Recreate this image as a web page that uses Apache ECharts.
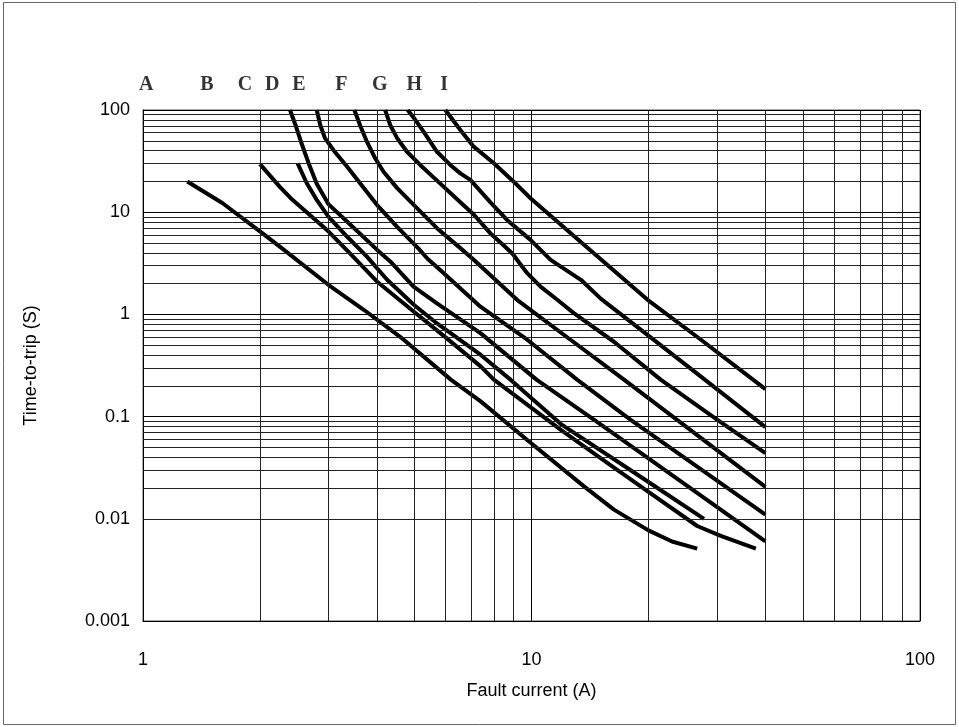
<!DOCTYPE html>
<html>
<head>
<meta charset="utf-8">
<script src="https://cdn.jsdelivr.net/npm/echarts@6/dist/echarts.min.js"></script>
<style>
html,body{margin:0;padding:0;background:#fff;}
#chart{width:959px;height:727px;}
</style>
</head>
<body>
<div id="chart"></div>
<script>
// ---- data ----
var curveNames = ['A','B','C','D','E','F','G','H','I'];
var curveA = [[1.3,20],[1.6,12.3],[2,6.5],[2.25,4.6],[3,1.95],[3.7,1.11],[4.6,0.6],[6.2,0.23],[7.4,0.141],[9.75,0.059],[13.6,0.021],[16.3,0.0123],[20,0.0077],[23,0.006],[26.7,0.0051]];
var curveB = [[2,29.5],[2.25,17.7],[2.4,13.7],[3,6.5],[3.4,4.0],[4,2.1],[5,1.05],[6,0.6],[7.4,0.31],[8,0.23],[11.9,0.074],[16,0.0333],[20,0.0183],[26.7,0.0085],[30.7,0.0068],[37.8,0.0051]];
var curveC = [[2.5,30],[2.64,19.2],[2.8,13.2],[3,9.06],[3.35,5.78],[3.77,3.68],[4.25,2.18],[4.97,1.25],[5.7,0.82],[6.56,0.56],[7.39,0.403],[8.83,0.23],[11.88,0.085],[20,0.0229],[27.8,0.010]];
var curveD = [[2.39,100],[2.47,71],[2.56,47],[2.67,30],[2.8,19],[3,12],[3.35,8.1],[4,4.3],[4.33,3.3],[4.97,1.87],[5.71,1.28],[7.39,0.656],[10.3,0.23],[14.5,0.093],[20,0.039],[40,0.006]];
var curveE = [[2.8,100],[2.86,71],[2.94,53],[3.1,40],[3.35,28],[3.62,19.2],[4,11.8],[4.51,7.2],[5.12,4.4],[5.4,3.5],[5.83,2.7],[6.5,1.85],[7.39,1.19],[9.75,0.565],[13.1,0.23],[18,0.093],[40,0.011]];
var curveF = [[3.5,100],[3.62,71],[3.77,49],[3.96,33.7],[4.16,24.9],[4.51,17.2],[5.08,10.9],[5.71,6.98],[6.56,4.45],[7.1,3.42],[9.18,1.39],[12.6,0.565],[17.3,0.23],[23.7,0.093],[40,0.0205]];
var curveG = [[4.2,100],[4.33,71],[4.51,53],[4.78,39],[5.17,29],[5.75,19.9],[6.56,12.5],[7.1,9.5],[7.84,6.2],[8.5,4.7],[8.95,3.9],[9.3,3.2],[9.75,2.53],[10.55,1.87],[11.65,1.39],[12.85,1.03],[16.3,0.54],[21.5,0.23],[30.1,0.093],[40,0.044]];
var curveH = [[4.8,100],[5.0,82],[5.28,61],[5.71,39],[6.18,29],[6.56,24],[6.96,20.7],[7.84,12.5],[8.65,8.4],[9.94,5.36],[11.2,3.42],[13.4,2.18],[15.1,1.42],[19.1,0.71],[27.3,0.246],[40,0.079]];
var curveI = [[6.0,100],[6.56,63.7],[7.1,43.8],[8.0,30.1],[9.0,19.9],[9.94,13.7],[12.9,5.77],[19.9,1.39],[27.3,0.565],[40,0.186]];
var labelX = [1.02,1.46,1.83,2.15,2.52,3.24,4.07,4.99,5.96];
var labelY = 100;
var minorX = [2,3,4,5,6,7,8,9,20,30,40,50,60,70,80,90];
var minorY = [0.002,0.003,0.004,0.005,0.006,0.007,0.008,0.009,
              0.02,0.03,0.04,0.05,0.06,0.07,0.08,0.09,
              0.2,0.3,0.4,0.5,0.6,0.7,0.8,0.9,
              2,3,4,5,6,7,8,9,
              20,30,40,50,60,70,80,90];

var curves = [curveA,curveB,curveC,curveD,curveE,curveF,curveG,curveH,curveI];

var chart = echarts.init(document.getElementById('chart'), null, {renderer:'canvas'});

var series = [];
var ml = [];
minorX.forEach(function(v){ ml.push({xAxis: v}); });
minorY.forEach(function(v){ ml.push({yAxis: v}); });
series.push({
  type:'line', name:'grid', data:[[1,0.001]], showSymbol:false, symbolSize:0,
  lineStyle:{width:0}, z:1, silent:true,
  markLine:{ silent:true, symbol:['none','none'], label:{show:false},
    lineStyle:{color:'#222', width:1, type:'solid'}, data: ml, animation:false }
});
curves.forEach(function(c, i){
  series.push({
    type:'line', name: curveNames[i], data: c, showSymbol:false,
    smooth:false,
    lineStyle:{color:'#000', width:4, join:'round'}, z:3, silent:true
  });
});
series.push({
  type:'scatter', name:'labels', symbolSize:0, z:4, clip:false, silent:true,
  data: labelX.map(function(x){ return [x, labelY]; }),
  label:{ show:true, position:'top', distance:15,
    formatter:function(p){ return curveNames[p.dataIndex]; },
    fontFamily:'Liberation Serif', fontWeight:'bold', fontSize:20, color:'#000' }
});

chart.setOption({
  animation:false,
  backgroundColor:'#fff',
  grid:{ left:143, right:39, top:110, bottom:106, show:true, borderColor:'#555', borderWidth:1 },
  xAxis:{
    type:'log', logBase:10, min:1, max:100,
    name:'Fault current (A)', nameLocation:'middle', nameGap:61,
    nameTextStyle:{ fontFamily:'Liberation Sans', fontSize:18, color:'#000' },
    axisLine:{ lineStyle:{color:'#000', width:1} },
    axisTick:{ show:false },
    axisLabel:{ fontFamily:'Liberation Sans', fontSize:18, color:'#000', margin:30 },
    splitLine:{ show:true, lineStyle:{color:'#000', width:1} }
  },
  yAxis:{
    type:'log', logBase:10, min:0.001, max:100,
    name:'Time-to-trip (S)', nameLocation:'middle', nameGap:103, nameRotate:90,
    nameTextStyle:{ fontFamily:'Liberation Sans', fontSize:18, color:'#000' },
    axisLine:{ lineStyle:{color:'#000', width:1} },
    axisTick:{ show:true, inside:true, length:5, lineStyle:{color:'#000'} },
    axisLabel:{ fontFamily:'Liberation Sans', fontSize:18, color:'#000', margin:13,
      formatter:function(v){ return String(+v.toPrecision(6)); } },
    splitLine:{ show:true, lineStyle:{color:'#000', width:1} }
  },
  graphic:[{ type:'rect', silent:true, z:0,
    shape:{ x:3.5, y:2.5, width:952, height:722 },
    style:{ fill:'none', stroke:'#666', lineWidth:1 } }],
  series: series
});
</script>
</body>
</html>
